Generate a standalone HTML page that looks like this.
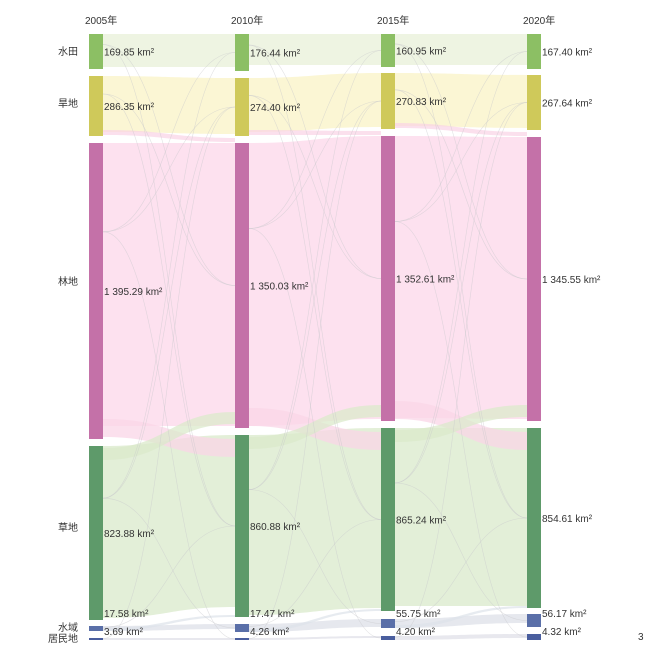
<!DOCTYPE html>
<html><head><meta charset="utf-8"><style>
body{margin:0;background:#fff}
svg{display:block;font-family:"Liberation Sans","Noto Sans CJK SC",sans-serif}
text{font-size:10px;fill:#333}
</style></head><body>
<svg id="s" width="650" height="647" xmlns="http://www.w3.org/2000/svg">
<g id="flows"></g><g id="nodes"></g><g id="labels"></g>
</svg>
<script>
var X=[89,235,381,527],W=14;
var N=[
[[34,69],[76,136],[143,439],[446,620],[626,631],[638,640]],
[[34,71],[78,136],[143,428],[435,617],[624,632],[638,640]],
[[34,67],[73,129],[136,421],[428,611],[619,628],[636,640]],
[[34,69],[75,130],[137,421],[428,608],[614,627],[634,640]]];
var NC=["#8cbf64","#cfc95a","#c471a8","#5e9a6a","#5a6fa8","#4a5e9e"];
var FC=["#eef4e2","#fbf6d4","#fde1ef","#e3efd8","#e6e8ee","#e8e8ee"];
var V=[["169.85","286.35","1 395.29","823.88","17.58","3.69"],
["176.44","274.40","1 350.03","860.88","17.47","4.26"],
["160.95","270.83","1 352.61","865.24","55.75","4.20"],
["167.40","267.64","1 345.55","854.61","56.17","4.32"]];
var ns="http://www.w3.org/2000/svg",fl=document.getElementById("flows"),nd=document.getElementById("nodes"),lb=document.getElementById("labels");
function el(p,t,a){var e=document.createElementNS(ns,t);for(var k in a)e.setAttribute(k,a[k]);p.appendChild(e);return e}
function band(x0,a0,b0,x1,a1,b1,c,o){var m=(x0+x1)/2;
el(fl,"path",{d:"M"+x0+","+a0+"C"+m+","+a0+" "+m+","+a1+" "+x1+","+a1+"L"+x1+","+b1+"C"+m+","+b1+" "+m+","+b0+" "+x0+","+b0+"Z",fill:c,"fill-opacity":o||1})}
for(var c=0;c<3;c++){var x0=X[c]+W,x1=X[c+1];
for(var i=0;i<6;i++){var s=N[c][i],t=N[c+1][i];var h=Math.min(s[1]-s[0],t[1]-t[0])-(i<4?2:0);if(h<1)h=1;
band(x0,s[0],s[0]+h,x1,t[0],t[0]+h,FC[i]);}
band(x0,N[c][2][1]-20,N[c][2][1]-2,x1,N[c+1][3][0]+4,N[c+1][3][0]+22,"#fad6e7",0.75);
band(x0,N[c][3][0]+2,N[c][3][0]+14,x1,N[c+1][2][1]-16,N[c+1][2][1]-4,"#dbeacb",0.75);
band(x0,N[c][1][1]-6,N[c][1][1]-1,x1,N[c+1][2][0]-5,N[c+1][2][0]-1,"#f9d3e5",0.7);
band(x0,N[c][4][1]-3,N[c][4][1],x1,N[c+1][3][1]-2,N[c+1][3][1],"#dde3ea",0.7);
var pairs=[[0,3],[1,3],[3,0],[3,1],[2,0],[0,2],[1,2],[2,1],[3,4],[4,3],[2,5],[5,1]];
pairs.forEach(function(p,k){var s=N[c][p[0]],t=N[c+1][p[1]];var ya=s[0]+(s[1]-s[0])*0.3,yb=t[0]+(t[1]-t[0])*0.5;var m=(x0+x1)/2;
el(fl,"path",{d:"M"+x0+","+ya+"C"+m+","+ya+" "+m+","+yb+" "+x1+","+yb,stroke:"#c8c8cc","stroke-width":0.6,fill:"none","stroke-opacity":0.55})});
}
var yrs=["2005年","2010年","2015年","2020年"],names=["水田","旱地","林地","草地","水域","居民地"];
for(var c=0;c<4;c++){el(lb,"text",{x:X[c]-4,y:24}).textContent=yrs[c];
for(var i=0;i<6;i++){var r=N[c][i];el(nd,"rect",{x:X[c],y:r[0],width:W,height:Math.max(r[1]-r[0],1.5),fill:NC[i]});
var ly=(r[0]+r[1])/2+4;
if(i==4)ly=617; if(i==5)ly=635;
el(lb,"text",{x:X[c]+W+1,y:ly}).textContent=V[c][i]+" km²";}}
var ly=[55,107,285,531,631,642];
for(var i=0;i<6;i++)el(lb,"text",{x:78,y:ly[i],"text-anchor":"end"}).textContent=names[i];
el(lb,"text",{x:638,y:640,"font-size":"11"}).textContent="3";
</script>
</body></html>
